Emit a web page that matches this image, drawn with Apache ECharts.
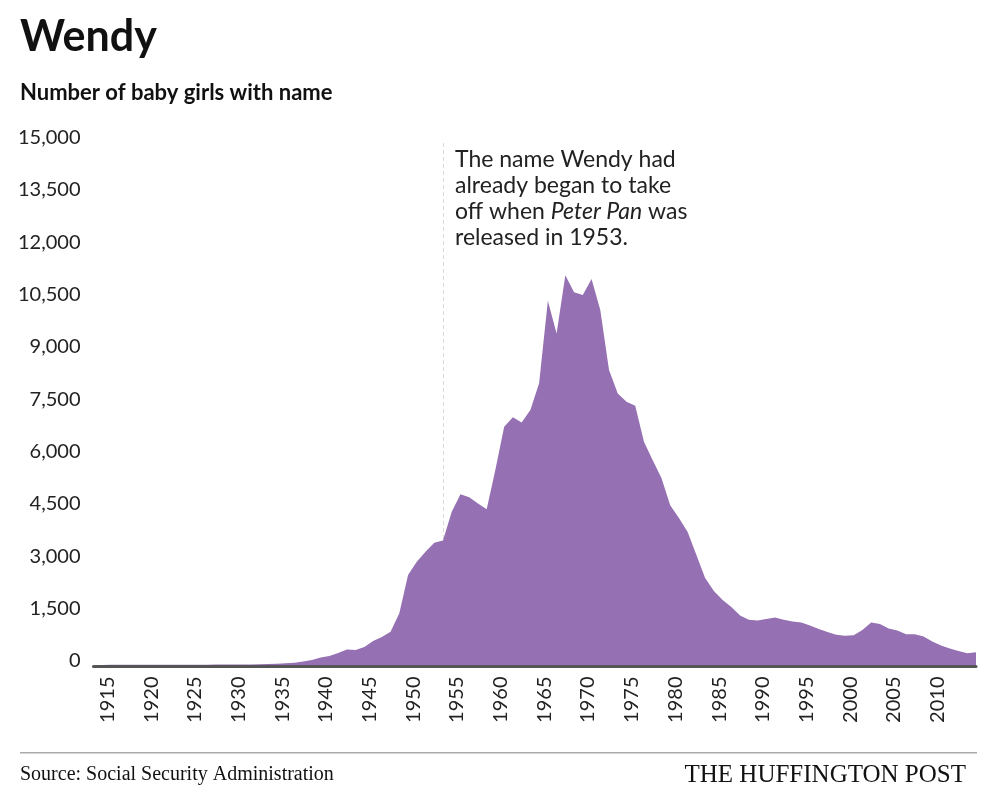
<!DOCTYPE html>
<html>
<head>
<meta charset="utf-8">
<script src="https://cdn.jsdelivr.net/npm/echarts@6/dist/echarts.min.js"></script>
<style>
  html, body { margin: 0; padding: 0; background: #fff; }
  #chart { width: 998px; height: 811px; }
</style>
</head>
<body>
<div id="chart"></div>
<script>
  // years 1913 - 2014
  const years = [];
  for (let y = 1913; y <= 2014; y++) years.push(String(y));

  // number of baby girls named Wendy
  const girls = [
    3, 3, 4, 4, 5, 5, 6, 6, 7, 7,                   // 1913-1922
    8, 8, 9, 10, 11, 12, 14, 15, 17, 20,            // 1923-1932
    26, 35, 50, 68, 100, 143, 215, 258, 344, 444,   // 1933-1942
    430, 515, 690, 800, 955, 1480, 2580, 2960, 3245, 3500, // 1943-1952
    3570, 4390, 4890, 4805, 4630, 4460, 5600, 6830, 7100, 6950, // 1953-1962
    7310, 8070, 10440, 9500, 11170, 10680, 10600, 11060, 10170, 8450, // 1963-1972
    7780, 7540, 7430, 6400, 5870, 5360, 4580, 4210, 3810, 3150, // 1973-1982
    2490, 2120, 1860, 1660, 1420, 1300, 1275, 1320, 1360, 1300, // 1983-1992
    1250, 1220, 1130, 1030, 945, 870, 840, 850, 1000, 1220,     // 1993-2002
    1175, 1045, 990, 880, 880, 815, 675, 560, 470, 400,         // 2003-2012
    335, 365                                                    // 2013-2014
  ];

  const yTicks = [0, 1500, 3000, 4500, 6000, 7500, 9000, 10500, 12000, 13500, 15000];
  const annotationYear = '1953';

  const font = 'Lato, "Noto Sans", sans-serif';
  const purple = '#9570b2';

  const chart = echarts.init(document.getElementById('chart'));

  const option = {
    animation: false,
    backgroundColor: '#fff',
    title: [
      {
        text: 'Wendy',
        left: 15,
        top: 11,
        textStyle: { fontFamily: font, fontSize: 43, fontWeight: 'bold', color: '#111' },
      },
      {
        text: 'Number of baby girls with name',
        left: 15,
        top: 77,
        textStyle: { fontFamily: font, fontSize: 22, fontWeight: 'bold', color: '#111' },
      },
    ],
    grid: { left: 93.5, right: 22, top: 141.5, bottom: 146, containLabel: false },
    xAxis: {
      type: 'category',
      data: years,
      boundaryGap: false,
      offset: 1.5,
      axisLine: { onZero: false, lineStyle: { color: '#555', width: 3 } },
      axisTick: { show: false },
      axisLabel: {
        rotate: 90,
        margin: 10,
        interval: (idx, val) => Number(val) % 5 === 0,
        formatter: (v) => '{a|' + v + '}',
        rich: {
          a: { fontFamily: font, fontSize: 20, color: '#222', padding: [0, 0, 7, 0] },
        },
      },
      splitLine: { show: false },
    },
    yAxis: {
      type: 'value',
      min: yTicks[0],
      max: yTicks[yTicks.length - 1],
      interval: 1500,
      axisLine: { show: false },
      axisTick: { show: false },
      splitLine: { show: false },
      axisLabel: {
        margin: 13,
        formatter: (v) => '{a|' + v.toLocaleString('en-US') + '}',
        rich: {
          a: { fontFamily: font, fontSize: 20, color: '#222', padding: [0, 0, 8, 0] },
        },
      },
    },
    series: [
      {
        type: 'line',
        data: girls,
        symbol: 'none',
        lineStyle: { width: 0 },
        areaStyle: { color: purple, opacity: 1 },
        z: 2,
        markLine: {
          silent: true,
          symbol: 'none',
          label: { show: false },
          lineStyle: { color: '#dadada', type: [4, 3], width: 1 },
          data: [{ xAxis: annotationYear }],
          z: 1,
        },
      },
    ],
    graphic: [
      {
        type: 'text',
        left: 455,
        top: 147,
        style: {
          text: 'The name Wendy had\nalready began to take\noff when {i|Peter Pan} was\nreleased in 1953.',
          font: '23px ' + font,
          fill: '#222',
          lineHeight: 26,
          rich: {
            i: { fontStyle: 'italic', fontFamily: font, fontSize: 23, fill: '#222', lineHeight: 26 },
          },
        },
      },
      {
        type: 'rect',
        shape: { x: 20, y: 752, width: 957, height: 1.5 },
        style: { fill: '#aaa' },
      },
      {
        type: 'text',
        left: 20,
        top: 765,
        style: {
          text: 'Source: Social Security Administration',
          font: '20px "Liberation Serif", serif',
          fill: '#111',
        },
      },
      {
        type: 'text',
        right: 32,
        top: 763,
        style: {
          text: 'THE HUFFINGTON POST',
          font: '25px "Liberation Serif", serif',
          fill: '#111',
        },
      },
    ],
  };

  chart.setOption(option);
  window.addEventListener('resize', () => chart.resize());
</script>
</body>
</html>
